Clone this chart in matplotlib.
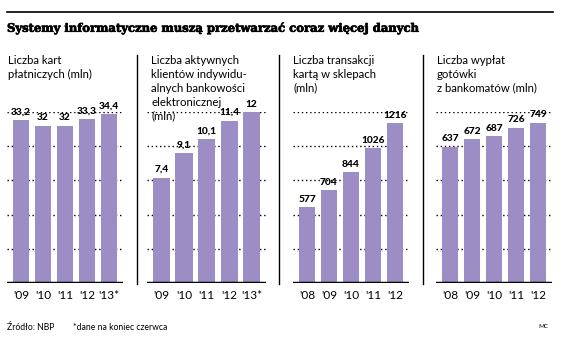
import matplotlib
matplotlib.use("Agg")
import matplotlib.pyplot as plt
import matplotlib.patheffects as pe
import numpy as np

# ---- data ----
title = "Systemy informatyczne muszą przetwarzać coraz więcej danych"
subtitles = [
    ["Liczba kart", "płatniczych (mln)"],
    ["Liczba aktywnych", "klientów indywidu-", "alnych bankowości", "elektronicznej", "(mln)"],
    ["Liczba transakcji", "kartą w sklepach", "(mln)"],
    ["Liczba wypłat", "gotówki", "z bankomatów (mln)"],
]
labels_1 = ["'09", "'10", "'11", "'12", "'13*"]
values_1 = [33.2, 32, 32, 33.3, 34.4]
labels_2 = ["'09", "'10", "'11", "'12", "'13*"]
values_2 = [7.4, 9.1, 10.1, 11.4, 12]
labels_3 = ["'08", "'09", "'10", "'11", "'12"]
values_3 = [577, 704, 844, 1026, 1216]
labels_4 = ["'08", "'09", "'10", "'11", "'12"]
values_4 = [637, 672, 687, 726, 749]
ymax = [34.8, 12.0, 1300, 800]
source = "Źródło: NBP"
note = "*dane na koniec czerwca"
author = "MC"

panels = [(labels_1, values_1), (labels_2, values_2), (labels_3, values_3), (labels_4, values_4)]

W, H = 561, 338
fig = plt.figure(figsize=(W / 100, H / 100), dpi=100)
fig.patch.set_facecolor("white")

BAR = "#9c8dc5"
SANS = "Lato"

def fx(px): return px / W
def fy(py): return 1 - py / H

# top rule
fig.add_artist(plt.Line2D([fx(7), fx(553)], [fy(12), fy(12)], color="black", lw=1.2))
t = fig.text(fx(7), fy(28), title, fontsize=11, fontweight="bold", family="DejaVu Serif",
             va="center", ha="left",
             path_effects=[pe.withStroke(linewidth=0.5, foreground="black")])
fig.canvas.draw()
bb = t.get_window_extent()
t.set_fontsize(11 * 411 / bb.width)

ax_x = [(7, 123), (147, 266), (293, 409), (436, 552)]
base_y, top_y = 283, 112
sub_x = [8, 151, 293, 437]

def fmt(v):
    s = f"{v:g}"
    return s.replace(".", ",")

for i, ((labs, vals), (x0, x1)) in enumerate(zip(panels, ax_x)):
    ax = fig.add_axes([fx(x0), fy(base_y), fx(x1 - x0), (base_y - top_y) / H])
    n = len(vals)
    ax.set_xlim(-0.635, n - 1 + 0.635)
    ax.set_ylim(0, ymax[i])
    ticks = np.linspace(0, ymax[i], 6)[1:]
    for tk in ticks:
        ax.axhline(tk, color="black", lw=1.0, ls=(0, (1, 2)), zorder=1)
    x = np.arange(n)
    ax.bar(x, vals, width=0.76, color=BAR, zorder=2)
    ax.axhline(0, color="black", lw=2.5, zorder=3)
    for xi, v in zip(x, vals):
        ax.annotate(fmt(v), (xi, v), xytext=(0, 2.5), textcoords="offset points",
                    ha="center", va="bottom", fontsize=7.3, fontweight="black",
                    family=SANS, clip_on=False, zorder=4)
    ax.set_xticks(x)
    ax.set_xticklabels(labs, family=SANS, fontsize=8.5, fontweight="normal")
    ax.tick_params(axis="x", length=0, pad=5)
    ax.set_yticks([])
    for s in ax.spines.values():
        s.set_visible(False)
    ax.patch.set_alpha(0)
    for j, line in enumerate(subtitles[i]):
        fig.text(fx(sub_x[i]), fy(60 + 14 * j), line, family=SANS, fontsize=8.2,
                 fontweight="normal", va="center", ha="left")

for sx in [137, 279, 423]:
    fig.add_artist(plt.Line2D([fx(sx), fx(sx)], [fy(55), fy(284)], color="black", lw=1.0))

fig.text(fx(7), fy(327), source, family=SANS, fontsize=6.2, va="center", ha="left")
fig.text(fx(73), fy(327), note, family=SANS, fontsize=6.2, va="center", ha="left")
fig.text(fx(548), fy(327), author, family=SANS, fontsize=4.5, va="center", ha="right")

fig.savefig("out.png", dpi=100, facecolor="white")
